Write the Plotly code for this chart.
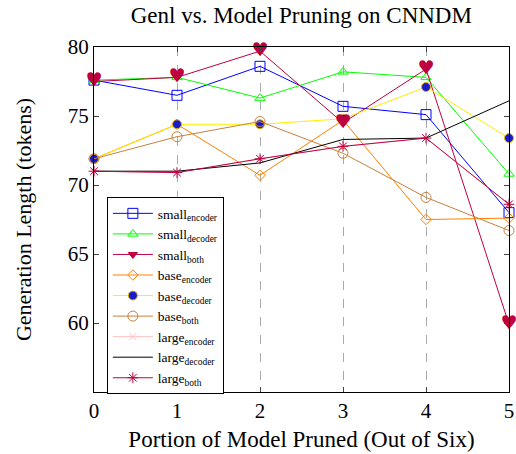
import plotly.graph_objects as go

# portion of model pruned (out of six)
pruned = [0, 1, 2, 3, 4, 5]

small_encoder = [77.6, 76.5, 78.6, 75.7, 75.1, 68.0]
small_decoder = [77.6, 77.8, 76.3, 78.2, 77.8, 70.8]
small_both = [77.5, 77.8, 79.7, 74.5, 78.4, 59.9]
base_encoder = [71.9, 74.4, 70.7, 74.7, 67.5, 67.6]
base_decoder = [71.9, 74.4, 74.4, 74.8, 77.1, 73.4]
base_both = [71.9, 73.5, 74.6, 72.3, 69.1, 66.7]
large_encoder = [71.0, 70.9, 71.9, 72.8, 73.4, 68.6]
large_decoder = [71.0, 71.0, 71.6, 73.3, 73.4, 76.1]
large_both = [71.0, 70.9, 71.9, 72.8, 73.4, 68.6]

y_ticks = [60, 65, 70, 75, 80]

SERIF = "Liberation Serif"

fig = go.Figure()


def add_series(name, values, color, symbol, size=9, mcolor=None, mline=None, lwidth=1):
    fig.add_trace(go.Scatter(
        x=pruned, y=values, name=name, mode="lines+markers" if symbol else "lines",
        line=dict(color=color, width=lwidth),
        marker=dict(symbol=symbol or "circle", size=size,
                    color=mcolor or color,
                    line=dict(color=mline or color, width=1)),
        cliponaxis=False,
    ))


add_series("small<sub>encoder</sub>", small_encoder, "#0000ff", "square-open", 10)
add_series("small<sub>decoder</sub>", small_decoder, "#00ff00", "triangle-up-open", 9)
add_series("small<sub>both</sub>", small_both, "#bf0040", "triangle-down", 8)
add_series("base<sub>encoder</sub>", base_encoder, "#ff8000", "diamond-open", 8)
add_series("base<sub>decoder</sub>", base_decoder, "#ffee00", "circle", 9,
           mcolor="#1a1acc", mline="#e0b800")
add_series("base<sub>both</sub>", base_both, "#c8803c", "circle-open", 10)
add_series("large<sub>encoder</sub>", large_encoder, "#ffc0c0", "x-thin-open", 7)
add_series("large<sub>decoder</sub>", large_decoder, "#000000", None)
add_series("large<sub>both</sub>", large_both, "#bf0040", "asterisk-open", 9)

# heart glyphs over the small_both points
fig.add_trace(go.Scatter(
    x=pruned, y=small_both, mode="text", text=["♥"] * len(pruned),
    textfont=dict(color="#bf0040", size=19, family="DejaVu Sans"),
    textposition="middle center", showlegend=False, cliponaxis=False,
))

axis_common = dict(
    showline=True, linecolor="black", linewidth=1, mirror="ticks",
    ticks="inside", ticklen=5, tickcolor="#444", zeroline=False,
    automargin=False,
    tickfont=dict(family=SERIF, size=21, color="black"),
)

fig.update_xaxes(
    range=[0, 5], tickvals=pruned, showgrid=True, gridcolor="#aaaaaa",
    griddash="dash", gridwidth=1,
    title=dict(text="Portion of Model Pruned (Out of Six)",
               font=dict(family=SERIF, size=23, color="black"), standoff=8),
    **axis_common,
)
fig.update_yaxes(
    range=[55, 80], tickvals=y_ticks, showgrid=False,
    title=dict(text="Generation Length (tokens)",
               font=dict(family=SERIF, size=22, color="black"), standoff=30),
    **axis_common,
)

fig.update_layout(
    width=516, height=454,
    margin=dict(l=94, r=7, t=47, b=62),
    paper_bgcolor="white", plot_bgcolor="white",
    title=dict(text="Genl vs. Model Pruning on CNNDM", x=0.584, xanchor="center",
               y=0.967, yanchor="middle",
               font=dict(family=SERIF, size=23, color="black")),
    legend=dict(x=0.031, y=0.565, xanchor="left", yanchor="top",
                bordercolor="black", borderwidth=1, bgcolor="white",
                font=dict(family=SERIF, size=13.5, color="black"),
                tracegroupgap=0, itemwidth=40),
)

fig.write_html("out.html", config={"displayModeBar": False},
               post_script="document.body.style.margin='0';")
